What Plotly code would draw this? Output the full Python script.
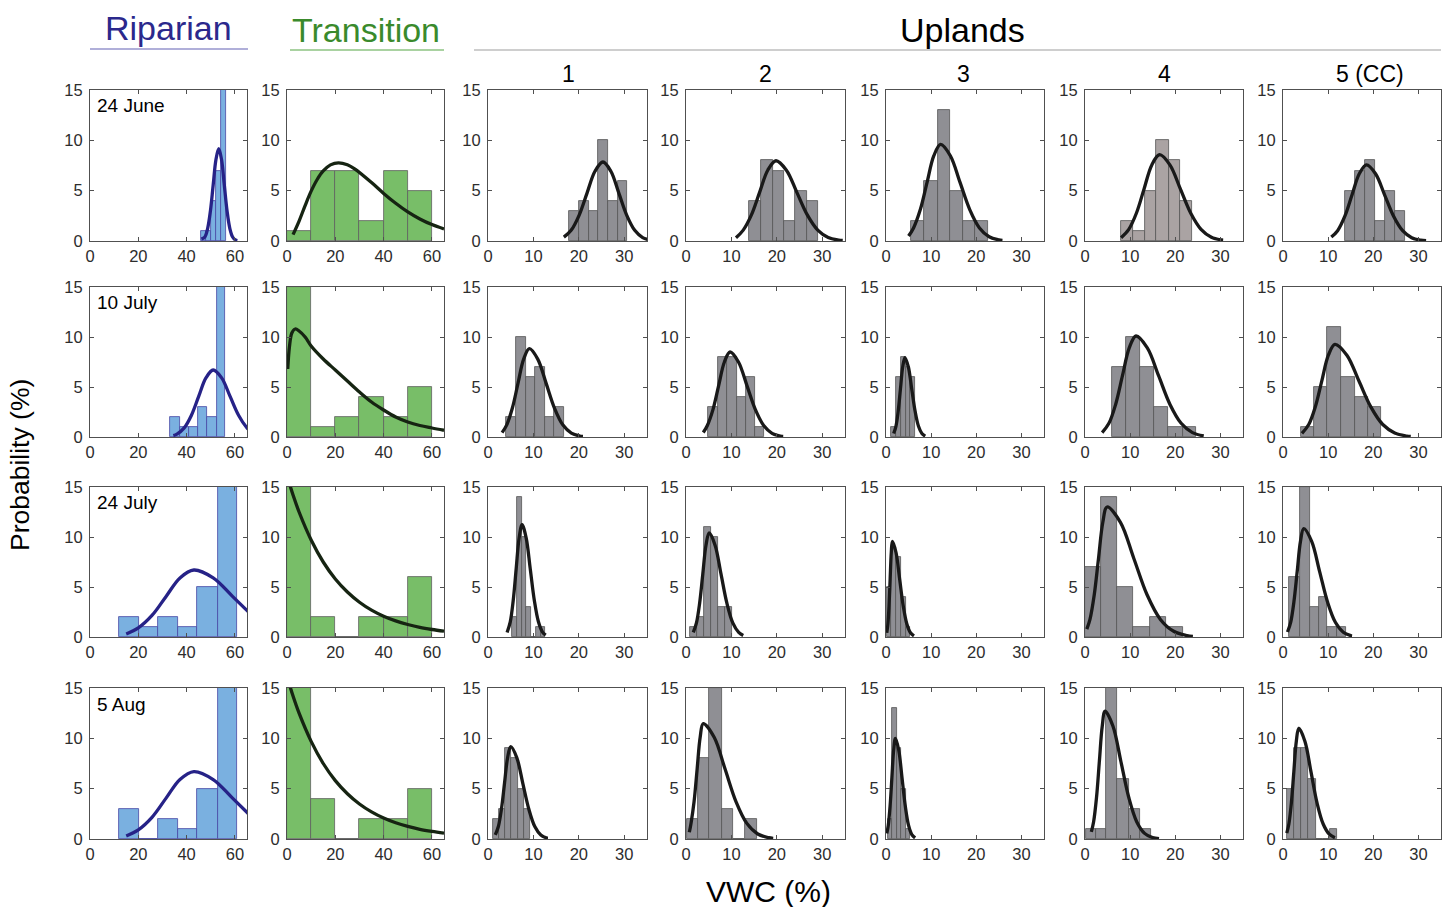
import plotly.graph_objects as go

# ---------------------------------------------------------------------------
# Data: VWC histograms (bin edges, counts) and fitted density curves
# one list entry per sampling date
# ---------------------------------------------------------------------------
dates = ["24 June", "10 July", "24 July", "5 Aug"]
upland_labels = ["1", "2", "3", "4", "5 (CC)"]

riparian_edges = [
    [45.8, 47.9, 50.0, 52.1, 54.2, 56.3],
    [33.3, 37.2, 41.0, 44.7, 48.6, 52.4, 56.0],
    [12.1, 20.1, 28.2, 36.4, 44.4, 52.8, 60.8],
    [12.1, 20.1, 28.2, 36.4, 44.4, 52.8, 60.8],
]
riparian_counts = [
    [1, 1, 4, 7, 17],
    [2, 1, 1, 3, 2, 21],
    [2, 1, 2, 1, 5, 19],
    [3, 0, 2, 1, 5, 19],
]
riparian_fit_x = [
    [46.1, 47.55, 48.7, 49.85, 51.0, 52.15, 53.3, 54.45, 55.6, 56.75, 57.9, 59.05, 60.2, 61.0],
    [34.5, 36.0, 39.0, 42.0, 45.0, 48.0, 51.0, 54.5, 58.0, 61.5, 65.0, 66.5],
    [15.0, 20.0, 25.75, 31.5, 37.25, 43.0, 51.0, 59.0, 67.0],
    [15.0, 20.0, 25.75, 31.5, 37.25, 43.0, 51.0, 59.0, 67.0],
]
riparian_fit_y = [
    [0.2, 0.4, 1.24, 2.98, 5.56, 8.09, 9.17, 8.09, 5.56, 2.98, 1.24, 0.4, 0.1, 0.03],
    [0.15, 0.29, 0.91, 2.18, 4.06, 5.91, 6.7, 5.91, 4.06, 2.18, 0.91, 0.58],
    [0.3, 0.91, 2.18, 4.06, 5.91, 6.7, 5.91, 4.06, 2.18],
    [0.3, 0.91, 2.18, 4.06, 5.91, 6.7, 5.91, 4.06, 2.18],
]

transition_edges = [
    [0, 10, 20, 30, 40, 50, 60],
    [0, 10, 20, 30, 40, 50, 60],
    [0, 10, 20, 30, 40, 50, 60],
    [0, 10, 20, 30, 40, 50, 60],
]
transition_counts = [
    [1, 7, 7, 2, 7, 5],
    [15, 1, 2, 4, 2, 5],
    [17, 2, 0, 2, 2, 6],
    [16, 4, 0, 2, 2, 5],
]
transition_fit_x = [
    [2.5, 5, 7.5, 10, 12.5, 15, 18, 21.3, 25, 28, 35, 40, 45, 50, 55, 60, 65],
    [0.3, 1, 2, 3.4, 5, 7.5, 10, 15, 20, 25, 30, 35, 40, 45, 50, 55, 60, 65],
    [0.3, 2.5, 5, 10, 15, 20, 25, 30, 35, 40, 45, 50, 55, 60, 65],
    [0.3, 2.5, 5, 10, 15, 20, 25, 30, 35, 40, 45, 50, 55, 60, 65],
]
transition_fit_y = [
    [0.63, 1.98, 3.52, 4.95, 6.11, 6.96, 7.56, 7.77, 7.57, 7.16, 5.8, 4.73, 3.75, 2.89, 2.19, 1.63, 1.2],
    [6.8, 9.0, 10.4, 10.8, 10.6, 10.0, 9.1, 7.8, 6.7, 5.6, 4.5, 3.5, 2.7, 2.0, 1.5, 1.15, 0.9, 0.67],
    [15.9, 14.2, 12.5, 9.7, 7.5, 5.8, 4.5, 3.48, 2.69, 2.08, 1.61, 1.25, 0.96, 0.75, 0.58],
    [15.9, 14.2, 12.5, 9.7, 7.5, 5.8, 4.5, 3.48, 2.69, 2.08, 1.61, 1.25, 0.96, 0.75, 0.58],
]

upland1_edges = [
    [17.9, 20.1, 22.2, 24.3, 26.4, 28.6, 30.6],
    [4.0, 6.15, 8.27, 10.4, 12.5, 14.6, 16.8],
    [5.3, 6.35, 7.4, 8.45, 9.5, 10.55, 11.6, 12.65],
    [1.1, 2.45, 3.8, 5.15, 6.5, 7.85, 9.2],
]
upland1_counts = [
    [3, 4, 3, 10, 4, 6],
    [2, 10, 6, 7, 2, 3],
    [2, 14, 10, 3, 0, 1, 1],
    [2, 3, 9, 8, 5, 3],
]
upland1_fit_x = [
    [16.7, 18.3, 20.05, 21.8, 23.55, 25.3, 27.05, 28.8, 30.55, 32.3, 34.05, 35.5],
    [3.1, 4.1, 5.35, 6.6, 7.85, 9.1, 10.95, 12.8, 14.65, 16.5, 18.35, 20.2, 20.9],
    [4.2, 4.9, 5.55, 6.2, 6.85, 7.5, 8.4, 9.3, 10.2, 11.1, 12.0, 12.7],
    [1.6, 2.28, 2.96, 3.64, 4.32, 5.0, 6.33, 7.65, 8.98, 10.3, 11.63, 12.95, 13.2],
]
upland1_fit_y = [
    [0.38, 1.06, 2.55, 4.76, 6.93, 7.85, 6.93, 4.76, 2.55, 1.06, 0.34, 0.12],
    [0.44, 1.19, 2.87, 5.36, 7.79, 8.83, 7.79, 5.36, 2.87, 1.19, 0.39, 0.1, 0.06],
    [0.45, 1.52, 3.65, 6.81, 9.91, 11.23, 9.91, 6.81, 3.65, 1.52, 0.49, 0.18],
    [0.4, 1.24, 2.98, 5.56, 8.09, 9.17, 8.09, 5.56, 2.98, 1.24, 0.4, 0.1, 0.08],
]

upland2_edges = [
    [13.9, 16.5, 19.1, 21.6, 24.1, 26.6, 29.1],
    [4.9, 7.1, 9.1, 11.15, 13.2, 15.2, 17.2],
    [0.9, 2.45, 4.0, 5.55, 7.1, 8.6, 10.1],
    [0.15, 2.57, 5.14, 7.85, 10.4, 13.0, 15.55],
]
upland2_counts = [
    [4, 8, 7, 2, 5, 4],
    [3, 8, 8, 4, 6, 1],
    [1, 2, 11, 10, 3, 3],
    [2, 8, 15, 3, 0, 2],
]
upland2_fit_x = [
    [11.0, 12.6, 14.4, 16.2, 18.0, 19.8, 22.1, 24.4, 26.7, 29.0, 31.3, 33.6, 34.5],
    [3.8, 4.7, 5.95, 7.2, 8.45, 9.7, 11.55, 13.4, 15.25, 17.1, 18.95, 20.8, 21.4],
    [1.6, 2.3, 3.0, 3.7, 4.4, 5.1, 6.4, 7.7, 9.0, 10.3, 11.6, 12.6],
    [0.73, 1.1, 1.78, 2.45, 3.12, 3.8, 6.2, 8.6, 11.0, 13.4, 15.8, 18.2, 19.2],
]
upland2_fit_y = [
    [0.33, 1.08, 2.59, 4.83, 7.03, 7.97, 7.03, 4.83, 2.59, 1.08, 0.35, 0.09, 0.05],
    [0.45, 1.15, 2.76, 5.16, 7.5, 8.5, 7.5, 5.16, 2.76, 1.15, 0.37, 0.09, 0.06],
    [0.46, 1.41, 3.38, 6.31, 9.18, 10.4, 9.18, 6.31, 3.38, 1.41, 0.46, 0.15],
    [0.67, 1.55, 3.72, 6.95, 10.11, 11.46, 10.11, 6.95, 3.72, 1.55, 0.5, 0.13, 0.07],
]

upland3_edges = [
    [5.5, 8.45, 11.5, 14.2, 17.0, 19.8, 22.6],
    [1.1, 2.2, 3.3, 4.35, 5.4, 6.45],
    [0.15, 1.2, 2.25, 3.3, 4.35, 5.4],
    [0.4, 1.4, 2.4, 3.4, 4.4, 5.4],
]
upland3_counts = [
    [2, 6, 13, 5, 2, 2],
    [1, 6, 8, 7, 6],
    [5, 9, 8, 4, 1],
    [2, 13, 9, 5, 1],
]
upland3_fit_x = [
    [5.0, 6.1, 7.6, 9.1, 10.6, 12.1, 14.25, 16.4, 18.55, 20.7, 22.85, 25.0, 25.8],
    [1.7, 2.2, 2.7, 3.2, 3.7, 4.2, 4.95, 5.7, 6.45, 7.2, 7.95, 8.7],
    [0.17, 0.42, 0.67, 0.92, 1.17, 1.42, 2.22, 3.02, 3.82, 4.62, 5.42, 6.2],
    [0.17, 0.5, 0.9, 1.3, 1.7, 2.1, 2.82, 3.55, 4.28, 5.0, 5.72, 6.45],
]
upland3_fit_y = [
    [0.5, 1.3, 3.12, 5.82, 8.47, 9.6, 8.47, 5.82, 3.12, 1.3, 0.42, 0.11, 0.06],
    [0.35, 1.07, 2.57, 4.81, 7.0, 7.93, 7.0, 4.81, 2.57, 1.07, 0.35, 0.09],
    [0.42, 1.29, 3.1, 5.8, 8.45, 9.57, 8.45, 5.8, 3.1, 1.29, 0.42, 0.11],
    [0.55, 1.35, 3.25, 6.07, 8.83, 10.0, 8.83, 6.07, 3.25, 1.35, 0.44, 0.11],
]

upland4_edges = [
    [8.0, 10.7, 13.2, 15.8, 18.5, 21.1, 23.7],
    [6.0, 9.0, 12.2, 15.3, 18.4, 21.6, 24.6],
    [0.0, 3.5, 7.1, 10.7, 14.3, 17.9, 21.6],
    [0.15, 2.4, 4.65, 7.15, 9.65, 12.1, 14.6],
]
upland4_counts = [
    [2, 1, 5, 10, 8, 4],
    [7, 10, 7, 3, 1, 1],
    [7, 14, 5, 1, 2, 1],
    [1, 1, 18, 6, 3, 1],
]
upland4_fit_x = [
    [8.0, 9.7, 11.4, 13.1, 14.8, 16.5, 18.8, 21.1, 23.4, 25.7, 28.0, 30.3, 30.6],
    [3.8, 5.3, 6.8, 8.3, 9.8, 11.3, 13.8, 16.3, 18.8, 21.3, 23.8, 26.3],
    [0.4, 1.1, 2.05, 3.0, 3.95, 4.9, 7.85, 10.8, 13.75, 16.7, 19.65, 22.6, 23.9],
    [1.4, 1.91, 2.55, 3.18, 3.82, 4.45, 6.2, 7.95, 9.7, 11.45, 13.2, 14.95, 16.4],
]
upland4_fit_y = [
    [0.33, 1.16, 2.78, 5.2, 7.56, 8.57, 7.56, 5.2, 2.78, 1.16, 0.38, 0.1, 0.08],
    [0.44, 1.37, 3.28, 6.13, 8.91, 10.1, 8.91, 6.13, 3.28, 1.37, 0.44, 0.11],
    [0.78, 1.76, 4.22, 7.88, 11.47, 13.0, 11.47, 7.88, 4.22, 1.76, 0.57, 0.14, 0.06],
    [0.71, 1.72, 4.12, 7.7, 11.2, 12.7, 11.2, 7.7, 4.12, 1.72, 0.56, 0.14, 0.03],
]

upland5_edges = [
    [13.8, 16.0, 18.1, 20.4, 22.5, 24.7, 27.0],
    [3.9, 6.9, 9.8, 12.9, 15.9, 18.8, 21.8],
    [1.43, 3.78, 6.05, 8.0, 9.8, 11.9, 14.0],
    [0.8, 2.4, 4.0, 5.6, 7.2, 8.8, 10.4, 12.0],
]
upland5_counts = [
    [5, 7, 8, 2, 5, 3],
    [1, 5, 11, 6, 4, 3],
    [6, 15, 3, 4, 1, 1],
    [5, 9, 9, 6, 0, 0, 1],
]
upland5_fit_x = [
    [10.7, 12.1, 13.7, 15.3, 16.9, 18.5, 20.5, 22.5, 24.5, 26.5, 28.5, 30.5, 31.7],
    [4.2, 5.7, 7.15, 8.6, 10.05, 11.5, 14.15, 16.8, 19.45, 22.1, 24.75, 27.4, 28.3],
    [1.0, 1.7, 2.42, 3.15, 3.87, 4.6, 6.35, 8.1, 9.85, 11.6, 13.35, 15.1, 15.3],
    [0.84, 1.3, 1.85, 2.4, 2.95, 3.5, 4.85, 6.2, 7.55, 8.9, 10.25, 11.5],
]
upland5_fit_y = [
    [0.39, 1.02, 2.46, 4.59, 6.68, 7.57, 6.68, 4.59, 2.46, 1.02, 0.33, 0.08, 0.03],
    [0.36, 1.25, 3.01, 5.62, 8.18, 9.27, 8.18, 5.62, 3.01, 1.25, 0.41, 0.1, 0.05],
    [0.5, 1.47, 3.52, 6.57, 9.56, 10.83, 9.56, 6.57, 3.52, 1.47, 0.48, 0.12, 0.1],
    [0.59, 1.49, 3.57, 6.67, 9.71, 11.0, 9.71, 6.67, 3.57, 1.49, 0.48, 0.13],
]

# ---------------------------------------------------------------------------
# Layout geometry (pixels) and styling
# ---------------------------------------------------------------------------
W, H = 1449, 907
col_px = [(90, 247), (287, 444), (488, 647), (686, 845), (886, 1044), (1085, 1243), (1283, 1441)]
row_px = [(90, 241), (287, 437), (487, 637), (688, 839)]

FONT = "Liberation Sans, Arial, Helvetica, sans-serif"
RIP_BAR = "rgb(122,176,224)"
RIP_EDGE = "rgb(72,72,165)"
RIP_LINE = "rgb(38,34,135)"
TRA_BAR = "rgb(120,190,104)"
TRA_EDGE = "rgb(95,95,95)"
TRA_LINE = "rgb(22,36,18)"
UP_BAR = "rgb(143,143,148)"
UP_BAR_WARM = "rgb(170,163,163)"
UP_EDGE = "rgb(85,85,85)"
UP_LINE = "rgb(25,25,25)"


def px_x(p):
    return p / W


def px_y(p):
    return 1 - p / H


site_data = [
    (riparian_edges, riparian_counts, riparian_fit_x, riparian_fit_y, RIP_BAR, RIP_EDGE, RIP_LINE, 65, [0, 20, 40, 60]),
    (transition_edges, transition_counts, transition_fit_x, transition_fit_y, TRA_BAR, TRA_EDGE, TRA_LINE, 65, [0, 20, 40, 60]),
    (upland1_edges, upland1_counts, upland1_fit_x, upland1_fit_y, UP_BAR, UP_EDGE, UP_LINE, 35, [0, 10, 20, 30]),
    (upland2_edges, upland2_counts, upland2_fit_x, upland2_fit_y, UP_BAR, UP_EDGE, UP_LINE, 35, [0, 10, 20, 30]),
    (upland3_edges, upland3_counts, upland3_fit_x, upland3_fit_y, UP_BAR, UP_EDGE, UP_LINE, 35, [0, 10, 20, 30]),
    (upland4_edges, upland4_counts, upland4_fit_x, upland4_fit_y, UP_BAR, UP_EDGE, UP_LINE, 35, [0, 10, 20, 30]),
    (upland5_edges, upland5_counts, upland5_fit_x, upland5_fit_y, UP_BAR, UP_EDGE, UP_LINE, 35, [0, 10, 20, 30]),
]

fig = go.Figure()
layout_axes = {}

for r in range(4):
    for c in range(7):
        idx = r * 7 + c + 1
        xa = "x" if idx == 1 else f"x{idx}"
        ya = "y" if idx == 1 else f"y{idx}"
        edges_all, counts_all, fx_all, fy_all, bar_col, edge_col, line_col, xmax, xticks = site_data[c]
        edges = edges_all[r]
        counts = counts_all[r]
        centers = [(edges[i] + edges[i + 1]) / 2 for i in range(len(counts))]
        widths = [edges[i + 1] - edges[i] for i in range(len(counts))]
        fill = UP_BAR_WARM if (c == 5 and r == 0) else bar_col

        fig.add_trace(go.Bar(
            x=centers, y=counts, width=widths,
            marker=dict(color=fill, line=dict(color=edge_col, width=0.8)),
            xaxis=xa, yaxis=ya, hoverinfo="skip",
        ))
        fig.add_trace(go.Scatter(
            x=fx_all[r], y=fy_all[r], mode="lines",
            line=dict(color=line_col, width=3.3, shape="spline", smoothing=1.0),
            xaxis=xa, yaxis=ya, hoverinfo="skip",
        ))

        x0, x1 = col_px[c]
        y0, y1 = row_px[r]
        axis_common = dict(
            showline=True, linecolor="rgb(80,80,80)", linewidth=1, mirror="ticks",
            ticks="inside", ticklen=4, tickcolor="rgb(80,80,80)", tickwidth=1,
            showgrid=False, zeroline=False, fixedrange=True, automargin=False,
            tickfont=dict(family=FONT, size=16.5, color="rgb(45,45,45)"),
        )
        layout_axes["xaxis" if idx == 1 else f"xaxis{idx}"] = dict(
            domain=[px_x(x0), px_x(x1)], range=[0, xmax], tickvals=xticks,
            anchor=ya, **axis_common,
        )
        layout_axes["yaxis" if idx == 1 else f"yaxis{idx}"] = dict(
            domain=[px_y(y1), px_y(y0)], range=[0, 15], tickvals=[0, 5, 10, 15],
            anchor=xa, ticklabelstandoff=3, **axis_common,
        )

annotations = []
# group headings
annotations.append(dict(text="Riparian", x=px_x(168), y=px_y(28), font=dict(family=FONT, size=34, color="rgb(43,40,140)")))
annotations.append(dict(text="Transition", x=px_x(366), y=px_y(30), font=dict(family=FONT, size=34, color="rgb(58,138,44)")))
annotations.append(dict(text="Uplands", x=px_x(962), y=px_y(30), font=dict(family=FONT, size=34, color="black")))
# upland site numbers
for label, cx in zip(upland_labels, [568, 765, 963, 1164, 1370]):
    annotations.append(dict(text=label, x=px_x(cx), y=px_y(74), font=dict(family=FONT, size=23, color="black")))
# date labels inside the riparian panels
for r, d in enumerate(dates):
    annotations.append(dict(text=d, x=px_x(95), y=px_y(row_px[r][0] + 16), xanchor="left",
                            font=dict(family=FONT, size=19, color="black")))
# axis titles
annotations.append(dict(text="Probability (%)", x=px_x(20), y=px_y(465), textangle=-90,
                        font=dict(family=FONT, size=26.5, color="black")))
annotations.append(dict(text="VWC (%)", x=px_x(768), y=px_y(891), font=dict(family=FONT, size=30, color="black")))

for a in annotations:
    a.setdefault("xanchor", "center")
    a.update(xref="paper", yref="paper", yanchor="middle", showarrow=False)

shapes = [
    dict(type="line", xref="paper", yref="paper", x0=px_x(90), x1=px_x(248), y0=px_y(49), y1=px_y(49),
         line=dict(color="rgb(150,148,205)", width=1.5)),
    dict(type="line", xref="paper", yref="paper", x0=px_x(290), x1=px_x(444), y0=px_y(50), y1=px_y(50),
         line=dict(color="rgb(140,195,130)", width=1.5)),
    dict(type="line", xref="paper", yref="paper", x0=px_x(474), x1=px_x(1441), y0=px_y(50), y1=px_y(50),
         line=dict(color="rgb(190,190,190)", width=1.5)),
]

fig.update_layout(
    width=W, height=H, margin=dict(l=0, r=0, t=0, b=0, pad=0),
    paper_bgcolor="white", plot_bgcolor="white",
    showlegend=False, bargap=0,
    annotations=annotations, shapes=shapes,
    **layout_axes,
)

fig.write_html("out.html", config={"displayModeBar": False})
